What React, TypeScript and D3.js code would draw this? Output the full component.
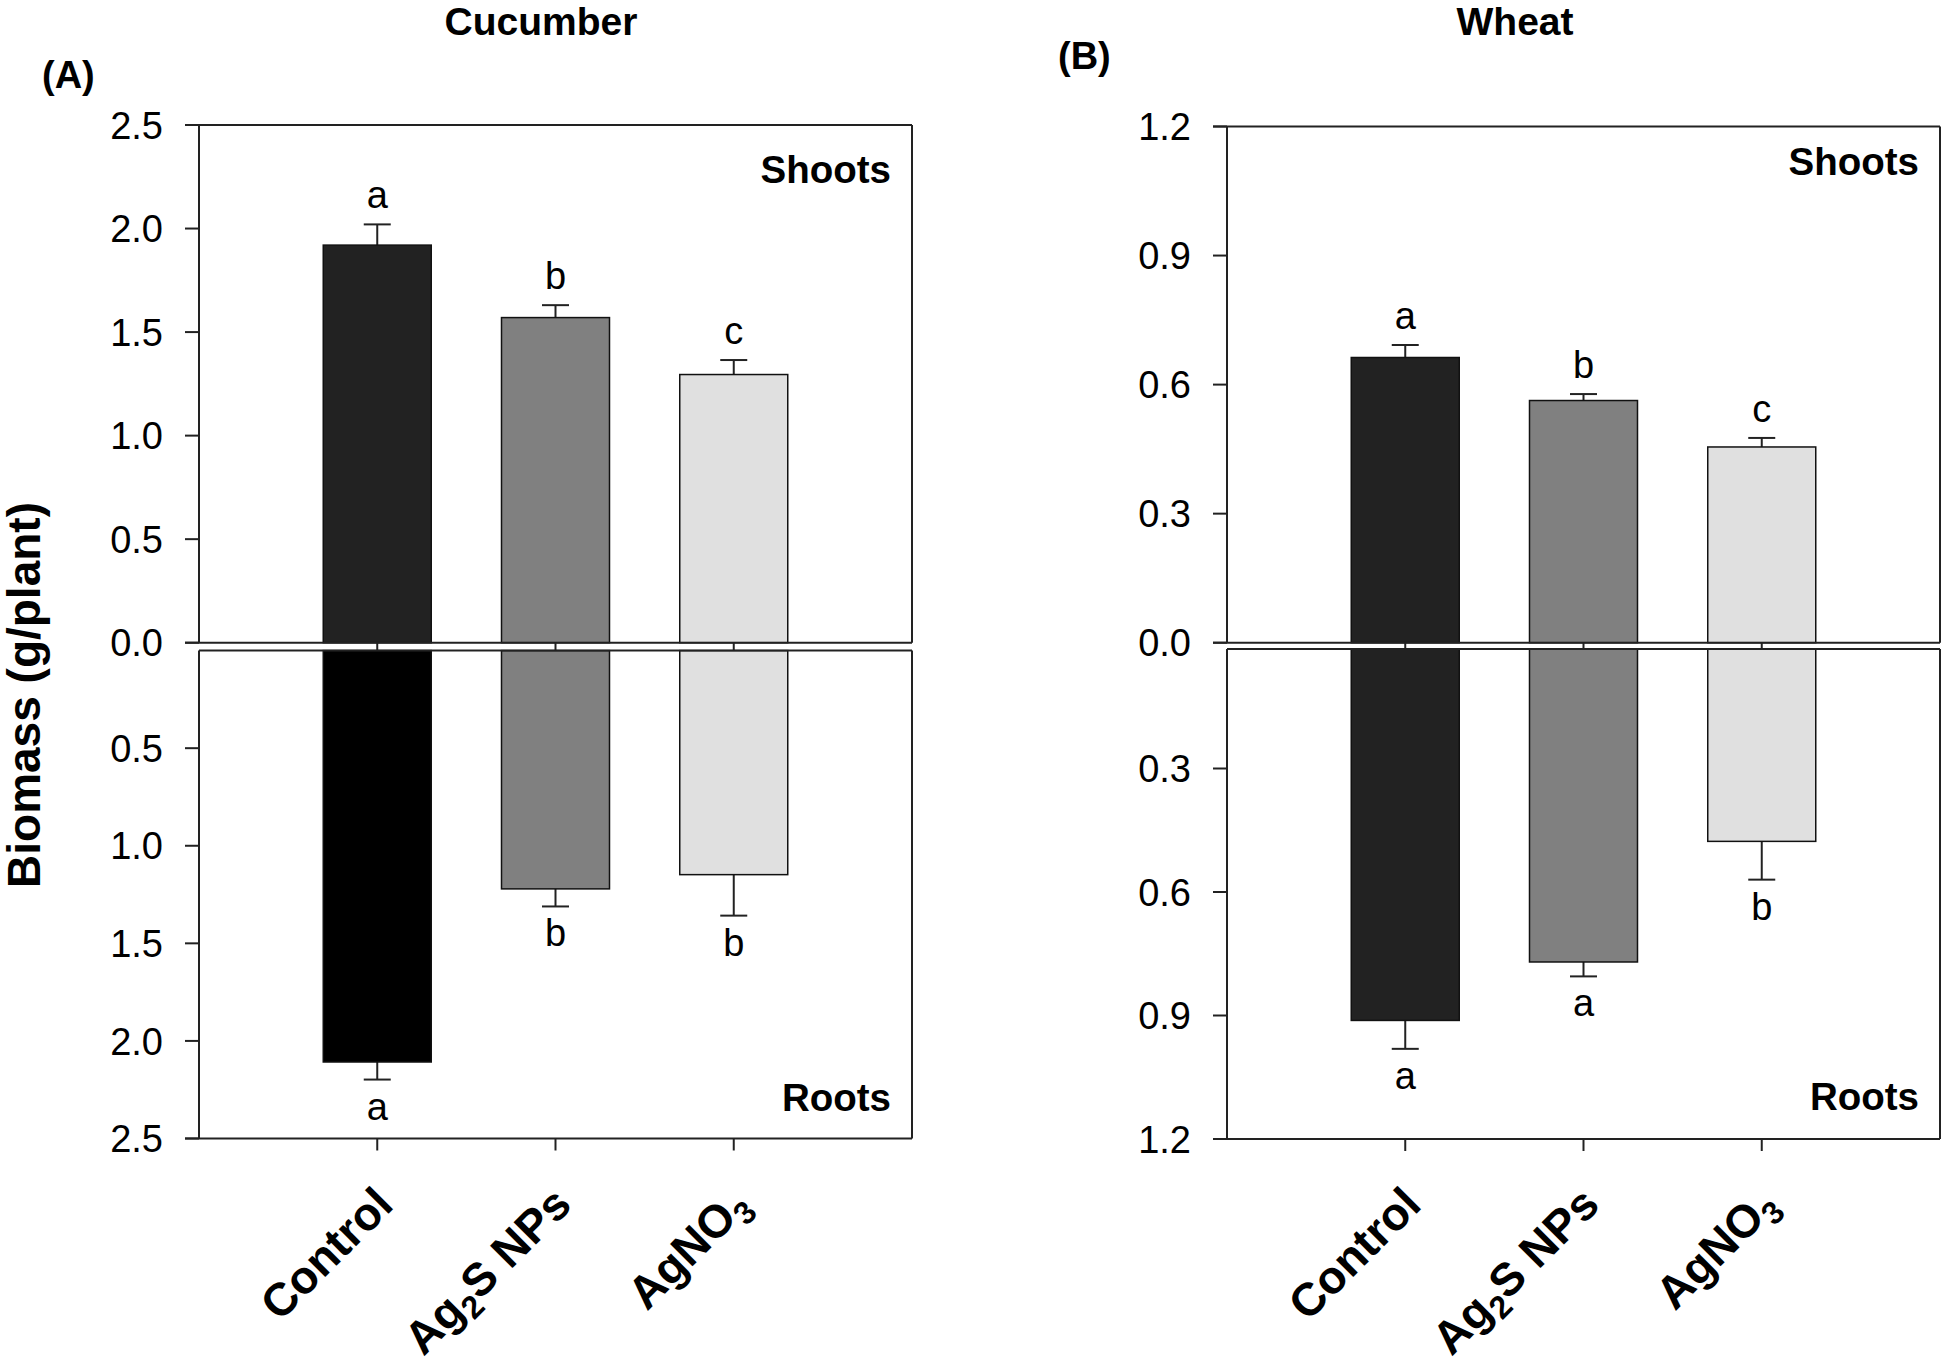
import React from 'react';
import * as d3 from 'd3';

// ---------- data ----------
const categories = ['Control', 'Ag2S NPs', 'AgNO3'];
const xLabelParts: [string, boolean][][] = [
  [['Control', false]],
  [['Ag', false], ['2', true], ['S NPs', false]],
  [['AgNO', false], ['3', true]],
];

const cucumberShoots = [1.92, 1.57, 1.295];
const cucumberShootsErr = [0.1, 0.06, 0.07];
const cucumberRoots = [2.108, 1.221, 1.148];
const cucumberRootsErr = [0.09, 0.09, 0.21];
const cucumberShootLetters = ['a', 'b', 'c'];
const cucumberRootLetters = ['a', 'b', 'b'];
const cucumberTicks = [0, 0.5, 1.0, 1.5, 2.0, 2.5];

const wheatShoots = [0.663, 0.563, 0.455];
const wheatShootsErr = [0.029, 0.015, 0.021];
const wheatRoots = [0.912, 0.77, 0.477];
const wheatRootsErr = [0.069, 0.035, 0.093];
const wheatShootLetters = ['a', 'b', 'c'];
const wheatRootLetters = ['a', 'a', 'b'];
const wheatTicks = [0, 0.3, 0.6, 0.9, 1.2];

// ---------- styles ----------
const FONT = '"Liberation Sans", Arial, Helvetica, sans-serif';
const shootColors = ['#222222', '#808080', '#e0e0e0'];
const rootColorsA = ['#000000', '#808080', '#e0e0e0'];
const rootColorsB = ['#222222', '#808080', '#e0e0e0'];
const LINE = '#222';

interface PanelCfg {
  title: string;
  titleX: number;
  tag: string;
  tagX: number;
  tagY: number;
  axisX: number;
  rightX: number;
  top: number;
  zeroY: number;
  lowTop: number;
  lowZero: number;
  bottom: number;
  max: number;
  ticks: number[];
  shoots: number[];
  shootsErr: number[];
  roots: number[];
  rootsErr: number[];
  shootLetters: string[];
  rootLetters: string[];
  rootColors: string[];
  shootsBaseline: number;
  rootsBaseline: number;
}

const panels: PanelCfg[] = [
  {
    title: 'Cucumber', titleX: 541, tag: '(A)', tagX: 42, tagY: 88,
    axisX: 199, rightX: 912, top: 125, zeroY: 642.7, lowTop: 650.6, lowZero: 650.6, bottom: 1138.5,
    max: 2.5, ticks: cucumberTicks,
    shoots: cucumberShoots, shootsErr: cucumberShootsErr, roots: cucumberRoots, rootsErr: cucumberRootsErr,
    shootLetters: cucumberShootLetters, rootLetters: cucumberRootLetters, rootColors: rootColorsA,
    shootsBaseline: 183, rootsBaseline: 1111,
  },
  {
    title: 'Wheat', titleX: 1515, tag: '(B)', tagX: 1058, tagY: 69,
    axisX: 1227, rightX: 1940, top: 126.5, zeroY: 642.7, lowTop: 649, lowZero: 645, bottom: 1139,
    max: 1.2, ticks: wheatTicks,
    shoots: wheatShoots, shootsErr: wheatShootsErr, roots: wheatRoots, rootsErr: wheatRootsErr,
    shootLetters: wheatShootLetters, rootLetters: wheatRootLetters, rootColors: rootColorsB,
    shootsBaseline: 175, rootsBaseline: 1110,
  },
];

const TICK = 14;
const BAR_W = 108;
const CAP = 27;
const XL_FS = 46;
const fmt = d3.format('.1f');

function Panel({ p }: { p: PanelCfg }) {
  const x = d3.scalePoint<string>().domain(categories).range([p.axisX, p.rightX]).padding(1);
  const yUp = d3.scaleLinear().domain([0, p.max]).range([p.zeroY, p.top]);
  const yLow = d3.scaleLinear().domain([0, p.max]).range([p.lowZero, p.bottom]);
  const tickStart = p.axisX - TICK;
  const labelX = tickStart - 22;

  return (
    <g>
      <text x={p.titleX} y={35} textAnchor="middle" fontFamily={FONT} fontWeight="bold" fontSize={39}>{p.title}</text>
      <text x={p.tagX} y={p.tagY} fontFamily={FONT} fontWeight="bold" fontSize={38}>{p.tag}</text>

      {/* bars upper */}
      {categories.map((c, i) => {
        const cx = x(c)!;
        const yv = yUp(p.shoots[i]);
        const ye = yUp(p.shoots[i] + p.shootsErr[i]);
        return (
          <g key={'s' + c}>
            <line x1={cx} x2={cx} y1={yv} y2={ye} stroke={LINE} strokeWidth={2} />
            <line x1={cx - CAP / 2} x2={cx + CAP / 2} y1={ye} y2={ye} stroke={LINE} strokeWidth={2} />
            <rect x={cx - BAR_W / 2} y={yv} width={BAR_W} height={p.zeroY - yv} fill={shootColors[i]} stroke="#111" strokeWidth={1.5} />
            <text x={cx} y={ye - 16} textAnchor="middle" fontFamily={FONT} fontSize={38}>{p.shootLetters[i]}</text>
          </g>
        );
      })}
      {/* bars lower */}
      {categories.map((c, i) => {
        const cx = x(c)!;
        const yv = yLow(p.roots[i]);
        const ye = yLow(p.roots[i] + p.rootsErr[i]);
        return (
          <g key={'r' + c}>
            <line x1={cx} x2={cx} y1={yv} y2={ye} stroke={LINE} strokeWidth={2} />
            <line x1={cx - CAP / 2} x2={cx + CAP / 2} y1={ye} y2={ye} stroke={LINE} strokeWidth={2} />
            <rect x={cx - BAR_W / 2} y={p.lowTop} width={BAR_W} height={yv - p.lowTop} fill={p.rootColors[i]} stroke="#111" strokeWidth={1.5} />
            <text x={cx} y={ye + 40} textAnchor="middle" fontFamily={FONT} fontSize={38}>{p.rootLetters[i]}</text>
          </g>
        );
      })}

      {/* upper box */}
      <line x1={tickStart} x2={p.rightX} y1={p.top} y2={p.top} stroke={LINE} strokeWidth={2} />
      <line x1={p.rightX} x2={p.rightX} y1={p.top} y2={p.zeroY} stroke={LINE} strokeWidth={2} />
      <line x1={p.axisX} x2={p.axisX} y1={p.top} y2={p.zeroY} stroke={LINE} strokeWidth={2} />
      <line x1={tickStart} x2={p.rightX} y1={p.zeroY} y2={p.zeroY} stroke={LINE} strokeWidth={2} />
      {/* lower box */}
      <line x1={p.axisX} x2={p.rightX} y1={p.lowTop} y2={p.lowTop} stroke={LINE} strokeWidth={2} />
      <line x1={p.axisX} x2={p.axisX} y1={p.lowTop} y2={p.bottom} stroke={LINE} strokeWidth={2} />
      <line x1={p.rightX} x2={p.rightX} y1={p.lowTop} y2={p.bottom} stroke={LINE} strokeWidth={2} />
      <line x1={tickStart} x2={p.rightX} y1={p.bottom} y2={p.bottom} stroke={LINE} strokeWidth={2} />

      {/* upper y ticks */}
      {p.ticks.map((t) => (
        <g key={'ut' + t}>
          <line x1={tickStart} x2={p.axisX} y1={yUp(t)} y2={yUp(t)} stroke={LINE} strokeWidth={2} />
          <text x={labelX} y={yUp(t)} dy="0.36em" textAnchor="end" fontFamily={FONT} fontSize={38}>{fmt(t)}</text>
        </g>
      ))}
      {/* lower y ticks */}
      {p.ticks.filter((t) => t > 0).map((t) => (
        <g key={'lt' + t}>
          <line x1={tickStart} x2={p.axisX} y1={yLow(t)} y2={yLow(t)} stroke={LINE} strokeWidth={2} />
          <text x={labelX} y={yLow(t)} dy="0.36em" textAnchor="end" fontFamily={FONT} fontSize={38}>{fmt(t)}</text>
        </g>
      ))}

      {/* x ticks */}
      {categories.map((c) => (
        <g key={'xt' + c}>
          <line x1={x(c)!} x2={x(c)!} y1={p.zeroY} y2={p.lowTop} stroke={LINE} strokeWidth={2} />
          <line x1={x(c)!} x2={x(c)!} y1={p.bottom} y2={p.bottom + 12} stroke={LINE} strokeWidth={2} />
        </g>
      ))}
      {categories.map((c, i) => {
        const px = x(c)! + 18;
        const py = 1207;
        return (
          <text key={'xl' + c} transform={`translate(${px},${py}) rotate(-45)`} textAnchor="end" fontFamily={FONT} fontWeight="bold" fontSize={XL_FS}>
            {xLabelParts[i].map(([s, sub], k) => {
              const prevSub = k > 0 && xLabelParts[i][k - 1][1];
              return (
                <tspan key={k} fontSize={sub ? 32 : XL_FS} dy={sub ? 10 : prevSub ? -10 : 0}>{s}</tspan>
              );
            })}
          </text>
        );
      })}

      <text x={p.rightX - 21} y={p.shootsBaseline} textAnchor="end" fontFamily={FONT} fontWeight="bold" fontSize={38.5}>Shoots</text>
      <text x={p.rightX - 21} y={p.rootsBaseline} textAnchor="end" fontFamily={FONT} fontWeight="bold" fontSize={38.5}>Roots</text>
    </g>
  );
}

export default function App() {
  return (
    <svg width={1946} height={1371} viewBox="0 0 1946 1371" style={{ position: 'absolute', left: 0, top: 0, background: '#fff' }}>
      <rect x={0} y={0} width={1946} height={1371} fill="#fff" />
      <text transform="translate(40,695) rotate(-90)" textAnchor="middle" fontFamily={FONT} fontWeight="bold" fontSize={46}>Biomass (g/plant)</text>
      {panels.map((p) => (
        <Panel key={p.title} p={p} />
      ))}
    </svg>
  );
}
